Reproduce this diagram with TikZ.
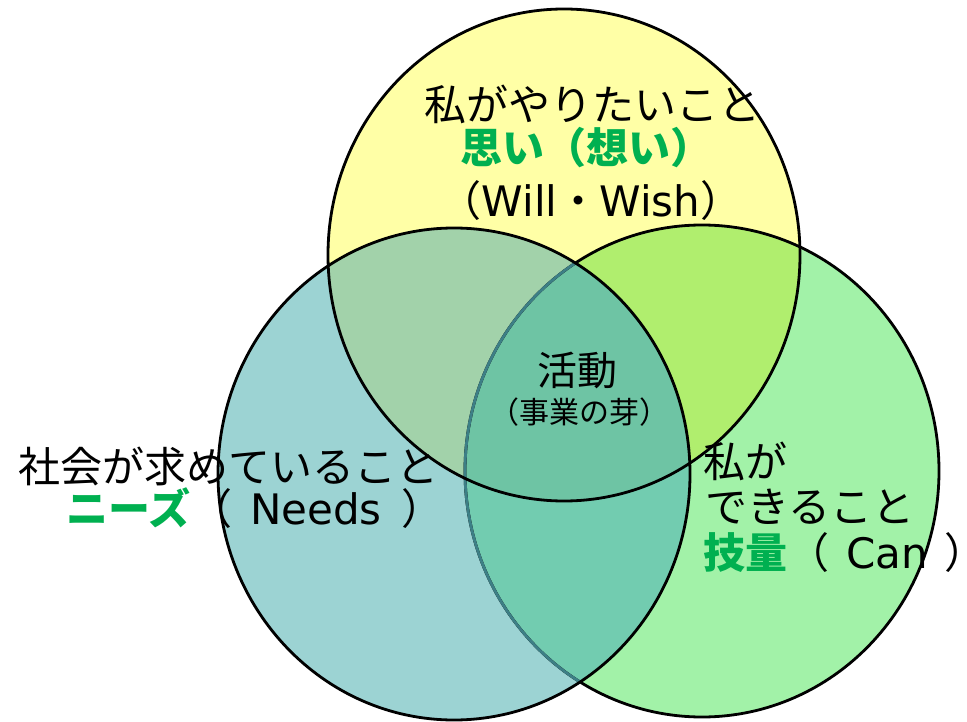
\documentclass[tikz,border=0pt]{standalone}
\usepackage{fontspec}
\setmainfont{Noto Sans CJK JP}
\newfontfamily\lat{DejaVu Sans}
\definecolor{yel}{HTML}{FFFFA6}
\definecolor{blu}{HTML}{9CD3D3}
\definecolor{grn}{HTML}{A2F2A8}
\definecolor{yg}{HTML}{B0EE6E}
\definecolor{yb}{HTML}{A2D2AA}
\definecolor{bg}{HTML}{72CCB0}
\definecolor{ybg}{HTML}{6EC4A4}
\definecolor{fade}{HTML}{3D7F86}
\definecolor{txtgreen}{HTML}{00B050}
\begin{document}
\begin{tikzpicture}[x=1pt,y=-1pt,
  outl/.style={draw=black, line width=2.8pt},
  lbl/.style={inner sep=0pt, text=black},
  big/.style={font=\fontsize{42}{42}\selectfont},
  gbold/.style={font=\fontsize{42}{42}\selectfont\bfseries, text=txtgreen}]
\useasboundingbox (0,0) rectangle (967,722);
\def\Ypath{(564,255) ellipse [x radius=236pt, y radius=246pt]}
\def\Bpath{(454,474) ellipse [x radius=236pt, y radius=246pt]}
\def\Gpath{(702,471) ellipse [x radius=237pt, y radius=246pt]}
% base fills
\fill[yel] \Ypath;
\fill[blu] \Bpath;
\fill[grn] \Gpath;
% overlaps
\begin{scope}\clip \Ypath; \fill[yg] \Gpath; \fill[yb] \Bpath; \end{scope}
\begin{scope}\clip \Bpath; \fill[bg] \Gpath; \end{scope}
\begin{scope}\clip \Ypath; \clip \Bpath; \fill[ybg] \Gpath; \end{scope}
% outlines
\draw[outl] \Gpath;
\begin{scope}\clip \Bpath; \draw[outl, draw=fade] \Gpath; \end{scope}
\draw[outl] \Ypath;
\draw[outl] \Bpath;
% texts: top circle
\node[lbl, big] (w1) at (592,104) {私がやりたいこと};
\node[lbl, gbold] (w2) at (586,148) {思い（想い）};
\node[lbl, big] (w3) at (591,201) {（{\lat Will}・{\lat Wish}）};
% center
\node[lbl, font=\fontsize{40}{40}\selectfont] (c1) at (577,370) {活動};
\node[lbl, font=\fontsize{30}{30}\selectfont] (c2) at (579,412) {（事業の芽）};
% left
\node[lbl, big] (n1) at (229,466) {社会が求めていること};
\node[lbl, big, anchor=west] (n2) at (66,508) {\textcolor{txtgreen}{\bfseries ニーズ}（\hspace{18pt}{\lat Needs}\hspace{20pt}）};
% right
\node[lbl, big, anchor=west] (k1) at (703,461) {私が};
\node[lbl, big, anchor=west] (k2) at (705,507) {できること};
\node[lbl, big, anchor=west] (k3) at (703,553) {\textcolor{txtgreen}{\bfseries 技量}（\hspace{17pt}{\lat Can}\hspace{17pt}\makebox[0.4em][l]{）}};
\end{tikzpicture}
\end{document}
